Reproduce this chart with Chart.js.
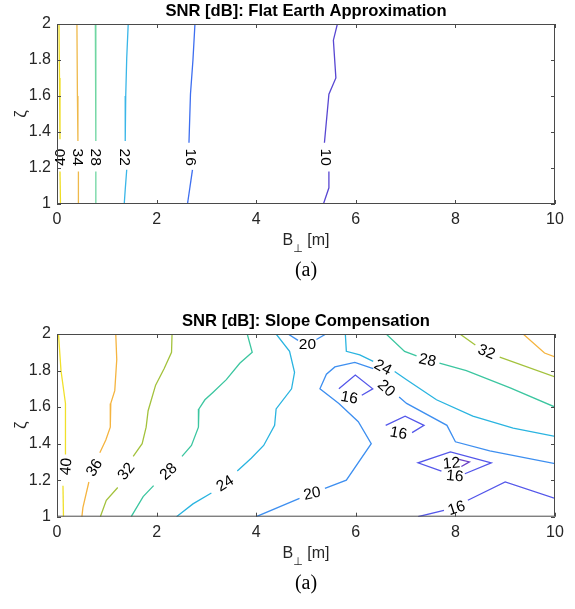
<!DOCTYPE html>
<html>
<head>
<meta charset="utf-8">
<script src="https://cdn.jsdelivr.net/npm/chart.js@4"></script>
<style>
  body { margin: 0; background: #fff; width: 575px; height: 609px; overflow: hidden; }
  canvas { position: absolute; left: 0; }
  #flat { top: 0; }
  #slope { top: 310px; }
</style>
</head>
<body>
<canvas id="flat" width="575" height="300"></canvas>
<canvas id="slope" width="575" height="299"></canvas>
<script>
// axis ticks
const xTicks = [0, 2, 4, 6, 8, 10];
const yTicks = [1, 1.2, 1.4, 1.6, 1.8, 2];

// --- flat earth contours: [B, zeta], null = gap where the label sits
const flat40 = [[0.04, 2], [0.05, 1.7], [0.06, 1.36], null, [0.06, 1.18], [0.07, 1]];
const flat34 = [[0.40, 2], [0.41, 1.6], [0.42, 1.35], null, [0.43, 1.18], [0.43, 1]];
const flat28 = [[0.77, 2], [0.78, 1.6], [0.78, 1.35], null, [0.78, 1.18], [0.78, 1]];
const flat22 = [[1.43, 2], [1.40, 1.81], [1.38, 1.6], [1.37, 1.39], [1.37, 1.35], null, [1.40, 1.19], [1.37, 1.08], [1.35, 1]];
const flat16 = [[2.77, 2], [2.73, 1.8], [2.68, 1.61], [2.65, 1.34], null, [2.72, 1.19], [2.62, 1]];
const flat10 = [[5.63, 2], [5.55, 1.91], [5.60, 1.70], [5.46, 1.61], [5.37, 1.34], null, [5.46, 1.18], [5.46, 1.09], [5.35, 1]];
const flatLevels = [40, 34, 28, 22, 16, 10];
const flatLabels = [
  [40, 0.06, 1.26, -90], [34, 0.42, 1.26, 90], [28, 0.78, 1.26, 90],
  [22, 1.38, 1.26, 90], [16, 2.69, 1.26, 90], [10, 5.40, 1.26, 90]
];

// --- slope compensation contours
const slope40 = [[0.03, 2], [0.08, 1.80], [0.17, 1.62], [0.17, 1.34], null, [0.12, 1.17], [0.13, 1]];
const slope36a = [[1.18, 2], [1.20, 1.86], [1.16, 1.69], [1.08, 1.62], [1.07, 1.49], [0.98, 1.42], [0.86, 1.35], null, [0.64, 1.19], [0.52, 1.05], [0.50, 1]];
const slope36b = [[9.36, 2], [9.79, 1.896], [10, 1.875]];
const slope32a = [[2.31, 2], [2.30, 1.90], [2.15, 1.81], [1.98, 1.72], [1.83, 1.58], [1.79, 1.49], [1.71, 1.40], [1.53, 1.33], null, [1.22, 1.16], [0.99, 1.09], [0.87, 1]];
const slope32b = [[8.09, 2], [8.40, 1.94], null, [8.89, 1.874], [10, 1.765]];
const slope28a = [[3.82, 2], [3.92, 1.90], [3.67, 1.84], [3.40, 1.75], [3.13, 1.68], [2.97, 1.64], [2.85, 1.59], [2.84, 1.49], [2.70, 1.39], [2.51, 1.33], null, [1.94, 1.17], [1.73, 1.11], [1.49, 1]];
const slope28b = [[6.61, 2], [6.98, 1.905], [7.22, 1.88], null, [7.68, 1.84], [8.22, 1.80], [9.10, 1.705], [10, 1.60]];
const slope24a = [[2.40, 1], [2.73, 1.07], [3.10, 1.13], null, [3.62, 1.25], [3.90, 1.32], [4.15, 1.39], [4.37, 1.50], [4.40, 1.59], [4.71, 1.70], [4.77, 1.79], [4.67, 1.905], [4.40, 2]];
const slope24b = [[5.79, 2], [5.81, 1.905], [6.08, 1.886], [6.35, 1.85], null, [6.78, 1.795], [7.02, 1.75], [7.62, 1.64], [8.35, 1.55], [9.16, 1.485], [10, 1.44]];
const slope20a = [[4.64, 2], [4.84, 1.965], null, [5.21, 1.97], [5.40, 2]];
const slope20b = [[4.0, 1], [4.87, 1.10], null, [5.38, 1.155], [5.81, 1.20], [6.31, 1.40], [6.05, 1.52], [5.66, 1.62], [5.28, 1.70], [5.41, 1.78], [5.58, 1.82], [5.98, 1.845], [6.35, 1.81], null, [6.87, 1.655], [7.02, 1.62], [7.83, 1.50], [8.0, 1.41], [8.69, 1.36], [10, 1.29]];
const slope16a = [[5.66, 1.70], [5.99, 1.775], [6.34, 1.70], [6.12, 1.665]];
const slope16b = [[6.60, 1.50], [6.99, 1.55], [7.37, 1.50], [7.13, 1.46]];
const slope16c = [[7.72, 1.25], [7.25, 1.295], [7.90, 1.355], [8.72, 1.295], [8.19, 1.235]];
const slope16d = [[7.25, 1], [7.77, 1.035], null, [8.25, 1.09], [9.0, 1.19], [10, 1.10]];
const slope12 = [[8.05, 1.315], [8.28, 1.30], [8.12, 1.275]];
const slopeLevels = [40, 36, 36, 32, 32, 28, 28, 24, 24, 20, 20, 16, 16, 16, 16, 12];
const slopeLabels = [
  [40, 0.17, 1.275, -85], [36, 0.74, 1.27, -58], [32, 1.38, 1.25, -52], [28, 2.23, 1.25, -42],
  [24, 3.37, 1.185, -32], [20, 5.03, 1.945, 0], [24, 6.55, 1.82, 28], [28, 7.44, 1.86, 12],
  [32, 8.63, 1.905, 22], [20, 5.12, 1.13, -12], [20, 6.62, 1.705, 42], [16, 5.87, 1.655, 10],
  [16, 6.86, 1.46, 10], [12, 7.92, 1.295, -5], [16, 7.99, 1.225, 5], [16, 8.02, 1.05, -18]
];

const flatColors = { 10: '#5847d2', 16: '#3d6ef0', 22: '#3ab6e8', 28: '#6fd6a2', 34: '#efb94a', 40: '#eedd22' };
const slopeColors = { 12: '#6a3fc6', 16: '#5457ea', 20: '#3e8ff0', 24: '#2ab4e0', 28: '#3cc6a0', 32: '#a3c23c', 36: '#f5b43f', 40: '#f0e02a' };

const sans = '"Liberation Sans", Arial, sans-serif';

function toDatasets(lines, levels, colors) {
  const sets = [];
  lines.forEach((line, i) => {
    let seg = [];
    const push = () => {
      if (seg.length > 1) {
        sets.push({
          data: seg, showLine: true, borderColor: colors[levels[i]], borderWidth: 1.3,
          pointRadius: 0, tension: 0, fill: false
        });
      }
      seg = [];
    };
    line.forEach(p => {
      if (p === null) push();
      else seg.push({ x: p[0], y: p[1] });
    });
    push();
  });
  return sets;
}

const axisDeco = {
  id: 'axisDeco',
  afterDraw(chart) {
    const ctx = chart.ctx;
    const a = chart.chartArea;
    const xs = chart.scales.x, ys = chart.scales.y;
    const o = chart.options.plugins.axisDeco;
    ctx.save();
    // contour labels
    ctx.fillStyle = '#000';
    ctx.font = '15.5px ' + sans;
    ctx.textAlign = 'center';
    ctx.textBaseline = 'middle';
    o.labels.forEach(l => {
      ctx.save();
      ctx.translate(xs.getPixelForValue(l[1]), ys.getPixelForValue(l[2]));
      ctx.rotate(l[3] * Math.PI / 180);
      ctx.fillText(String(l[0]), 0, 1);
      ctx.restore();
    });
    // box
    ctx.strokeStyle = '#4a4a4a';
    ctx.lineWidth = 1;
    ctx.strokeRect(a.left + 0.5, a.top + 0.5, a.right - a.left - 1, a.bottom - a.top - 1);
    // inward ticks
    ctx.beginPath();
    xTicks.forEach(v => {
      const px = Math.round(xs.getPixelForValue(v)) + 0.5;
      ctx.moveTo(px, a.bottom); ctx.lineTo(px, a.bottom - 4);
      ctx.moveTo(px, a.top); ctx.lineTo(px, a.top + 4);
    });
    yTicks.forEach(v => {
      const py = Math.round(ys.getPixelForValue(v)) + 0.5;
      ctx.moveTo(a.left, py); ctx.lineTo(a.left + 4, py);
      ctx.moveTo(a.right, py); ctx.lineTo(a.right - 4, py);
    });
    ctx.stroke();
    // title
    const cx = (a.left + a.right) / 2;
    ctx.fillStyle = '#000';
    ctx.font = 'bold 16.6px ' + sans;
    ctx.textAlign = 'center';
    ctx.textBaseline = 'middle';
    ctx.fillText(o.title, cx, a.top - 13);
    // x label  B⊥ [m]
    ctx.fillStyle = '#262626';
    ctx.font = '16px ' + sans;
    ctx.textAlign = 'left';
    const ly = a.bottom + 37;
    const wB = ctx.measureText('B').width;
    ctx.font = '11px "DejaVu Sans", sans-serif';
    const wP = ctx.measureText('\u22A5').width;
    ctx.font = '16px ' + sans;
    const wM = ctx.measureText(' [m]').width;
    const x0 = cx - (wB + wP + wM) / 2;
    ctx.fillText('B', x0, ly);
    ctx.fillText(' [m]', x0 + wB + wP, ly);
    ctx.font = '11px "DejaVu Sans", sans-serif';
    ctx.fillText('\u22A5', x0 + wB, ly + 8);
    // y label zeta
    ctx.save();
    ctx.font = '17px ' + sans;
    ctx.textAlign = 'center';
    ctx.translate(21, (a.top + a.bottom) / 2);
    ctx.rotate(-Math.PI / 2);
    ctx.fillText('\u03B6', 0, 0);
    ctx.restore();
    // (a)
    ctx.fillStyle = '#000';
    ctx.font = '20px "Liberation Serif", "Times New Roman", serif';
    ctx.textAlign = 'center';
    ctx.fillText('(a)', cx, a.bottom + 67);
    ctx.restore();
  }
};

function makeChart(id, lines, levels, colors, labels, title, xHeight) {
  return new Chart(document.getElementById(id), {
    type: 'scatter',
    data: { datasets: toDatasets(lines, levels, colors) },
    options: {
      responsive: false,
      animation: false,
      layout: { padding: { top: 24, right: 20, left: 0, bottom: 0 } },
      plugins: {
        legend: { display: false },
        tooltip: { enabled: false },
        axisDeco: { labels: labels, title: title }
      },
      scales: {
        x: {
          type: 'linear', min: 0, max: 10,
          afterBuildTicks: s => { s.ticks = xTicks.map(v => ({ value: v })); },
          afterFit: s => { s.height = xHeight; },
          grid: { display: false, drawTicks: false },
          border: { display: false },
          ticks: { padding: 6, color: '#262626', font: { family: sans, size: 16 }, maxRotation: 0 }
        },
        y: {
          type: 'linear', min: 1, max: 2,
          afterBuildTicks: s => { s.ticks = yTicks.map(v => ({ value: v })); },
          afterFit: s => { s.width = 57; },
          grid: { display: false, drawTicks: false },
          border: { display: false },
          ticks: {
            padding: 6, color: '#262626', font: { family: sans, size: 16 },
            callback: v => String(+v.toFixed(1))
          }
        }
      }
    },
    plugins: [axisDeco]
  });
}

makeChart('flat', [flat40, flat34, flat28, flat22, flat16, flat10], flatLevels, flatColors, flatLabels,
  'SNR [dB]: Flat Earth Approximation', 96);
makeChart('slope',
  [slope40, slope36a, slope36b, slope32a, slope32b, slope28a, slope28b, slope24a, slope24b,
   slope20a, slope20b, slope16a, slope16b, slope16c, slope16d, slope12],
  slopeLevels, slopeColors, slopeLabels, 'SNR [dB]: Slope Compensation', 92.3);
</script>
</body>
</html>
